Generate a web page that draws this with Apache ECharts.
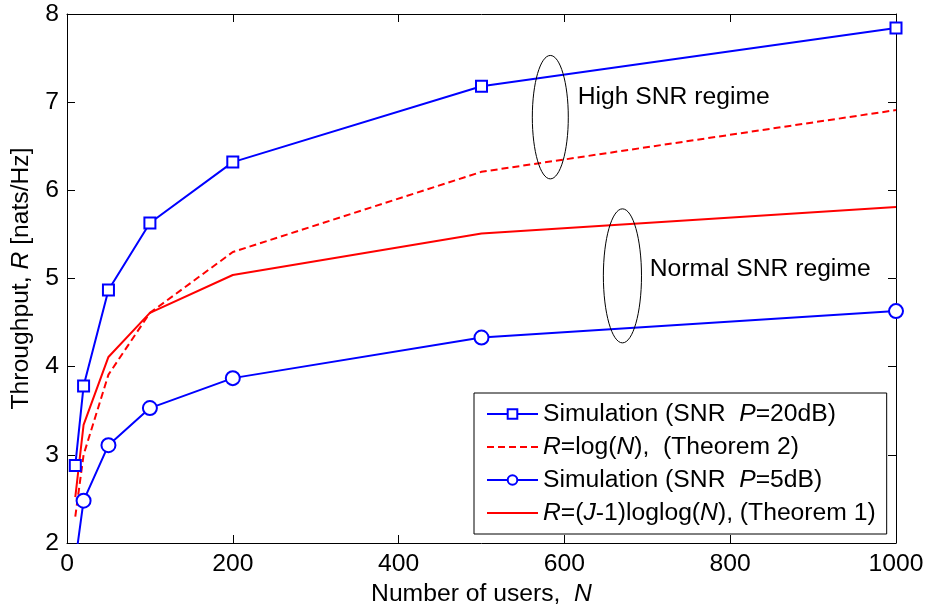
<!DOCTYPE html>
<html>
<head>
<meta charset="utf-8">
<script src="https://cdn.jsdelivr.net/npm/echarts@6/dist/echarts.min.js"></script>
<style>
html,body{margin:0;padding:0;background:#fff;}
#chart{width:928px;height:607px;}
</style>
</head>
<body>
<div id="chart"></div>
<script>
// ---- data ----
const users = [10, 20, 50, 100, 200, 500, 1000];
const simHigh = [2.88, 3.78, 4.87, 5.63, 6.32, 7.18, 7.84];   // Simulation SNR P=20dB
const theorem2 = [2.30, 3.00, 3.91, 4.61, 5.30, 6.21, 6.91];  // R=log(N)
const simNormal = [1.79, 2.48, 3.11, 3.53, 3.87, 4.33, 4.63]; // Simulation SNR P=5dB
const theorem1 = [2.52, 3.34, 4.11, 4.61, 5.04, 5.51, 5.81];  // R=(J-1)loglog(N)

const seriesNames = [
  'Simulation (SNR  P=20dB)',
  'R=log(N),  (Theorem 2)',
  'Simulation (SNR  P=5dB)',
  'R=(J-1)loglog(N), (Theorem 1)'
];
const legendRich = {
  'Simulation (SNR  P=20dB)': '{n|Simulation (SNR  }{i|P}{n|=20dB)}',
  'R=log(N),  (Theorem 2)': '{i|R}{n|=log(}{i|N}{n|),  (Theorem 2)}',
  'Simulation (SNR  P=5dB)': '{n|Simulation (SNR  }{i|P}{n|=5dB)}',
  'R=(J-1)loglog(N), (Theorem 1)': '{i|R}{n|=(}{i|J}{n|-1)loglog(}{i|N}{n|), (Theorem 1)}'
};
const xTicks = [0, 200, 400, 600, 800, 1000];
const yTicks = [2, 3, 4, 5, 6, 7, 8];

// annotations (data coordinates)
const annotations = [
  { text: 'High SNR regime', ex: 583, ey: 6.83, rx: 21.7, ry: 0.70, tx: 616, ty: 7.06 },
  { text: 'Normal SNR regime', ex: 670, ey: 5.03, rx: 23, ry: 0.76, tx: 703, ty: 5.11 }
];

const FONT = "'Liberation Sans', Arial, Helvetica, sans-serif";
const FS = 24.7;
const pairs = (ys) => users.map((u, i) => [u, ys[i]]);

const chart = echarts.init(document.getElementById('chart'), null, { renderer: 'canvas' });

const axisCommon = {
  axisLine: { show: true, onZero: false, lineStyle: { color: '#000', width: 1 } },
  axisTick: { show: true, inside: true, length: 8, lineStyle: { color: '#000', width: 1 } },
  splitLine: { show: false }
};
const richStyles = {
  n: { fontSize: FS, fontFamily: FONT, color: '#000' },
  i: { fontSize: FS, fontFamily: FONT, fontStyle: 'italic', color: '#000' }
};

const option = {
  backgroundColor: '#fff',
  animation: false,
  textStyle: { fontFamily: FONT },
  grid: { left: 67, right: 32, top: 14, bottom: 64, containLabel: false, outerBoundsMode: 'none' },
  xAxis: [
    Object.assign({}, axisCommon, {
      type: 'value', position: 'bottom', min: xTicks[0], max: xTicks[xTicks.length - 1], interval: 200,
      axisLabel: { show: true, color: '#000', fontSize: FS, fontFamily: FONT, margin: 9, formatter: (v) => String(v) },
      name: '{n|Number of users,  }{i|N}', nameLocation: 'middle', nameGap: 37,
      nameTextStyle: { color: '#000', fontSize: FS, fontFamily: FONT, rich: richStyles }
    }),
    Object.assign({}, axisCommon, {
      type: 'value', position: 'top', min: xTicks[0], max: xTicks[xTicks.length - 1], interval: 200,
      axisLabel: { show: false }
    })
  ],
  yAxis: [
    Object.assign({}, axisCommon, {
      type: 'value', position: 'left', min: yTicks[0], max: yTicks[yTicks.length - 1], interval: 1,
      axisLabel: { show: true, color: '#000', fontSize: FS, fontFamily: FONT, margin: 8 },
      name: '{n|Throughput, }{i|R}{n| [nats/Hz]}', nameLocation: 'middle', nameGap: 33, nameRotate: 90,
      nameTextStyle: { color: '#000', fontSize: FS, fontFamily: FONT, rich: richStyles }
    }),
    Object.assign({}, axisCommon, {
      type: 'value', position: 'right', min: yTicks[0], max: yTicks[yTicks.length - 1], interval: 1,
      axisLabel: { show: false }
    })
  ],
  legend: {
    orient: 'vertical',
    left: 474, top: 393,
    padding: [8, 11, 8, 12],
    itemWidth: 51, itemHeight: 12, itemGap: 7,
    backgroundColor: '#fff',
    borderColor: '#000', borderWidth: 1, borderRadius: 0,
    data: seriesNames,
    formatter: (name) => legendRich[name],
    textStyle: {
      color: '#000', fontSize: FS, fontFamily: FONT, lineHeight: 26,
      rich: {
        n: { fontSize: FS, fontFamily: FONT, color: '#000', lineHeight: 26 },
        i: { fontSize: FS, fontFamily: FONT, fontStyle: 'italic', color: '#000', lineHeight: 26 }
      }
    }
  },
  series: [
    {
      name: seriesNames[0], type: 'line', xAxisIndex: 0, yAxisIndex: 0, data: pairs(simHigh),
      symbol: 'emptyRect', symbolSize: 11, clip: true, z: 4,
      lineStyle: { color: '#0000ff', width: 2 },
      itemStyle: { color: '#0000ff', borderColor: '#0000ff', borderWidth: 2 }
    },
    {
      name: seriesNames[1], type: 'line', xAxisIndex: 0, yAxisIndex: 0, data: pairs(theorem2),
      symbol: 'none', clip: true, z: 3,
      lineStyle: { color: '#ff0000', width: 2, type: [7, 4] },
      itemStyle: { color: 'rgba(0,0,0,0)', borderWidth: 0 }
    },
    {
      name: seriesNames[2], type: 'line', xAxisIndex: 0, yAxisIndex: 0, data: pairs(simNormal),
      symbol: 'emptyCircle', symbolSize: 14, clip: true, z: 4,
      lineStyle: { color: '#0000ff', width: 2 },
      itemStyle: { color: '#0000ff', borderColor: '#0000ff', borderWidth: 2 }
    },
    {
      name: seriesNames[3], type: 'line', xAxisIndex: 0, yAxisIndex: 0, data: pairs(theorem1),
      symbol: 'none', clip: true, z: 3,
      lineStyle: { color: '#ff0000', width: 2 },
      itemStyle: { color: 'rgba(0,0,0,0)', borderWidth: 0 }
    }
  ]
};

chart.setOption(option);

// annotation ellipses and labels positioned through the axis scales
const g = [];
annotations.forEach((a) => {
  const c = chart.convertToPixel({ gridIndex: 0 }, [a.ex, a.ey]);
  const e = chart.convertToPixel({ gridIndex: 0 }, [a.ex + a.rx, a.ey + a.ry]);
  const t = chart.convertToPixel({ gridIndex: 0 }, [a.tx, a.ty]);
  g.push({
    type: 'ellipse', z: 10, silent: true,
    shape: { cx: c[0], cy: c[1], rx: Math.abs(e[0] - c[0]), ry: Math.abs(e[1] - c[1]) },
    style: { fill: null, stroke: '#000', lineWidth: 1 }
  });
  g.push({
    type: 'text', z: 10, silent: true,
    x: t[0], y: t[1],
    style: { text: a.text, fill: '#000', fontSize: FS, fontFamily: FONT, align: 'left', verticalAlign: 'middle' }
  });
});
chart.setOption({ graphic: g });
</script>
</body>
</html>
